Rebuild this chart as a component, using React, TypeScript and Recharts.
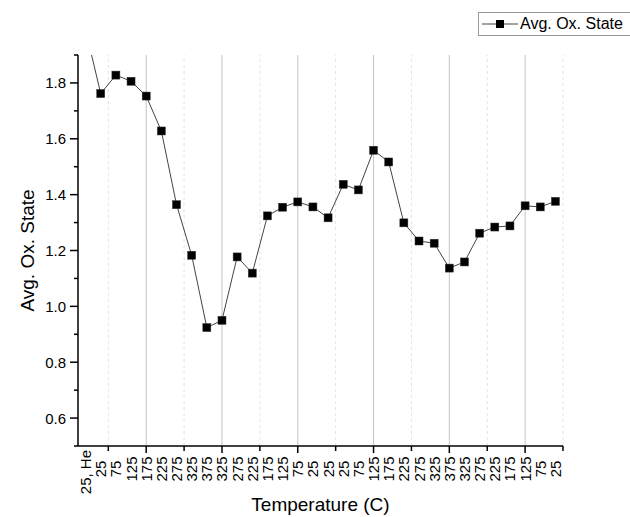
import React from 'react';
import { LineChart, Line, XAxis, YAxis, ReferenceLine, Label } from 'recharts';

const tempLabels = [
  '25, He', '25', '75', '125', '175', '225', '275', '325', '375', '325', '275', '225', '175', '125', '75', '25',
  '25', '25', '75', '125', '175', '225', '275', '325', '375', '325', '275', '225', '175', '125', '75', '25',
];

const oxState = [
  1.99, 1.762, 1.828, 1.806, 1.753, 1.628, 1.364, 1.183, 0.924, 0.95, 1.177, 1.119, 1.324, 1.355, 1.374, 1.356,
  1.317, 1.437, 1.417, 1.559, 1.517, 1.299, 1.234, 1.226, 1.137, 1.159, 1.262, 1.284, 1.288, 1.36, 1.356, 1.376,
];

// axis positions (category index space)
const majorX = [4, 9, 14, 19, 24, 29];
const minorX = [1.5, 6.5, 11.5, 16.5, 21.5, 26.5, 31.5];
const yTicks = [0.5, 0.6, 0.7, 0.8, 0.9, 1.0, 1.1, 1.2, 1.3, 1.4, 1.5, 1.6, 1.7, 1.8, 1.9];

const data = oxState.map((v, i) => ({ idx: i, label: tempLabels[i], value: v }));
const xTicks = [...tempLabels.map((_, i) => i), ...minorX].sort((a, b) => a - b);

const FONT = 'Arial, "Liberation Sans", sans-serif';

const XTick = (props: any) => {
  const { x, y, payload } = props;
  const v = payload.value as number;
  const isInt = Number.isInteger(v);
  const isMajor = majorX.includes(v);
  const text = isInt ? tempLabels[v] : '';
  // long labels would run into the axis when centred, so hang them from the top
  const long = text.length > 3;
  const cy = long ? y + 4 : y + 23;
  return (
    <g>
      {(isMajor || !isInt) && (
        <line x1={x} x2={x} y1={y} y2={y + (isMajor ? 7 : 5)} stroke="#000" strokeWidth={1.5} />
      )}
      {isInt && (
        <text
          x={x}
          y={cy}
          transform={`rotate(-90, ${x}, ${cy})`}
          textAnchor={long ? 'end' : 'middle'}
          dominantBaseline="central"
          fontSize={15}
          fontFamily={FONT}
          fill="#000"
        >
          {text}
        </text>
      )}
    </g>
  );
};

const YTick = (props: any) => {
  const { x, y, payload } = props;
  const v = payload.value as number;
  const isMajor = Math.round(v * 10) % 2 === 0;
  return (
    <g>
      <line x1={x - (isMajor ? 8 : 4)} x2={x} y1={y} y2={y} stroke="#000" strokeWidth={1.5} />
      {isMajor && (
        <text x={x - 12} y={y} textAnchor="end" dominantBaseline="central" fontSize={15} fontFamily={FONT} fill="#000">
          {v.toFixed(1)}
        </text>
      )}
    </g>
  );
};

const SquareDot = (props: any) => {
  const { cx, cy, index } = props;
  if (cx == null || cy == null) return <g key={index} />;
  return <rect key={index} x={cx - 4} y={cy - 4} width={8} height={8} fill="#000" stroke="#333" strokeWidth={0.5} />;
};

export default function App() {
  return (
    <div style={{ position: 'fixed', left: 0, top: 0, width: 630, height: 517, overflow: 'hidden', background: '#fff' }}>
      <LineChart width={630} height={517} data={data} margin={{ top: 55, right: 67, bottom: 0, left: 0 }}>
        <XAxis
          dataKey="idx"
          type="number"
          domain={[-0.5, 31.5]}
          ticks={xTicks}
          interval={0}
          tick={<XTick />}
          tickLine={false}
          tickSize={0}
          tickMargin={0}
          height={71}
          axisLine={{ stroke: '#000', strokeWidth: 1.5 }}
        >
          <Label
            content={(p: any) => {
              const vb = p.viewBox;
              return (
                <text x={vb.x + vb.width / 2} y={vb.y + 65} textAnchor="middle" fontSize={19} fontFamily={FONT} fill="#000">
                  Temperature (C)
                </text>
              );
            }}
          />
        </XAxis>
        <YAxis
          type="number"
          domain={[0.5, 1.9]}
          ticks={yTicks}
          interval={0}
          allowDataOverflow
          tick={<YTick />}
          tickLine={false}
          tickSize={0}
          tickMargin={0}
          width={78}
          axisLine={{ stroke: '#000', strokeWidth: 1.5 }}
        >
          <Label
            content={(p: any) => {
              const vb = p.viewBox;
              const cx = 27;
              const cy = vb.y + vb.height / 2;
              return (
                <text
                  x={cx}
                  y={cy}
                  transform={`rotate(-90, ${cx}, ${cy})`}
                  textAnchor="middle"
                  dominantBaseline="central"
                  fontSize={19}
                  fontFamily={FONT}
                  fill="#000"
                >
                  Avg. Ox. State
                </text>
              );
            }}
          />
        </YAxis>
        {minorX.map((v) => (
          <ReferenceLine key={`mn${v}`} x={v} stroke="#e2e2e2" strokeDasharray="3 3" strokeWidth={1} />
        ))}
        {majorX.map((v) => (
          <ReferenceLine key={`mj${v}`} x={v} stroke="#c4c4c4" strokeWidth={1} />
        ))}
        <Line
          type="linear"
          dataKey="value"
          name="Avg. Ox. State"
          stroke="#444"
          strokeWidth={1}
          dot={<SquareDot />}
          activeDot={false}
          isAnimationActive={false}
        />
      </LineChart>
      <div
        style={{
          position: 'absolute',
          left: 478,
          top: 12,
          width: 170,
          height: 22,
          border: '1px solid #999',
          display: 'flex',
          alignItems: 'center',
          fontFamily: FONT,
          fontSize: 16,
          color: '#000',
          background: '#fff',
        }}
      >
        <svg width={41} height={22} style={{ display: 'block' }}>
          <line x1={3} x2={39} y1={11} y2={11} stroke="#444" strokeWidth={1} />
          <rect x={17} y={7} width={8} height={8} fill="#000" />
        </svg>
        <span>Avg. Ox. State</span>
      </div>
    </div>
  );
}
